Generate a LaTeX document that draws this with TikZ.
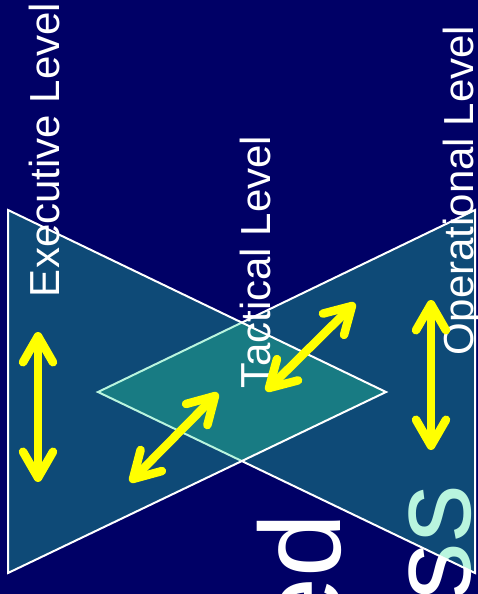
\documentclass[tikz,border=0pt]{standalone}
\usepackage{fontspec}
\setmainfont{Liberation Sans}
\usetikzlibrary{arrows.meta}
\definecolor{bg}{RGB}{0,0,102}
\definecolor{tealfill}{RGB}{45,225,156}
\definecolor{arrowyellow}{RGB}{255,255,0}
\tikzset{
  tri/.style={fill=tealfill, fill opacity=0.33, draw=white, line width=2pt, line join=miter},
  lvl/.style={text=white, rotate=90, inner sep=0pt, outer sep=0pt, font=\fontsize{42}{50}\selectfont, anchor=base west},
  bigword/.style={text=white, rotate=90, inner sep=0pt, outer sep=0pt, font=\fontsize{115}{130}\selectfont, anchor=base east},
  dbl/.style={draw=arrowyellow, line width=8.5pt, line cap=round, line join=round,
    {Straight Barb[round,length=26pt,width=30pt]}-{Straight Barb[round,length=26pt,width=30pt]}},
}
\begin{document}
\begin{tikzpicture}[x=1pt,y=-1pt]
\useasboundingbox (0,0) rectangle (478,594);
\clip (0,0) rectangle (478,594);
\fill[bg] (0,0) rectangle (478,594);
% large words partly hidden
\node[bigword] (w1) at (340,514) {ed};
\node[bigword] (w2) at (470,485) {ess};
% triangles
\path[tri] (475,210) -- (475,573) -- (98,392) -- cycle;
\path[tri] (8,210) -- (8,573) -- (386,392) -- cycle;
% level labels
\node[lvl] (exec) at (59,297) {Executive Level};
\node[lvl] (tact) at (270,388) {Tactical Level};
\node[lvl] (oper) at (473,355) {Operational Level};
% arrows
\coordinate (a1) at (38,332);
\coordinate (a2) at (38,482);
\coordinate (b1) at (130,482);
\coordinate (b2) at (218,393);
\coordinate (c1) at (266,391);
\coordinate (c2) at (355,303);
\coordinate (d1) at (431,300);
\coordinate (d2) at (431,450);
\draw[dbl] (a1) -- (a2);
\draw[dbl] (b1) -- (b2);
\draw[dbl] (c1) -- (c2);
\draw[dbl] (d1) -- (d2);
\end{tikzpicture}
\end{document}
